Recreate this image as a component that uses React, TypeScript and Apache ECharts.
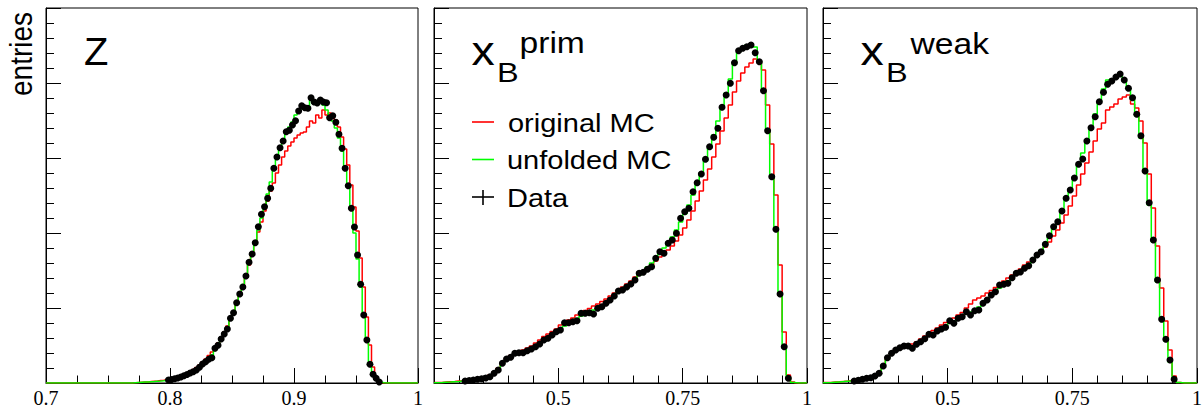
import React, { useEffect, useRef } from "react";
import * as echarts from "echarts";

// ---------- binning ----------
const Z_LO = 0.7;
const Z_HI = 1.0;
const Z_BINS = 120;
const XB_LO = 0.25;
const XB_HI = 1.0;
const XB_BINS = 90;

// ---------- tick labels ----------
const Z_TICK_LABELS = ["0.7", "0.8", "0.9", "1"];
const XB_TICK_LABELS = ["0.25", "0.5", "0.75", "1"];

// ---------- panel 1 : z ----------
const Z_RED_FIRST = 28;
const Z_RED = [
  0.3, 0.5, 0.7, 0.9, 1.1, 1.4, 1.7, 2.0, 2.4, 2.8, 3.3, 3.9, 4.6, 5.4, 6.3, 7.4, 8.7, 10.2, 11.8, 13.6,
  15.6, 18, 21, 24, 27.5, 31, 35, 40, 45, 51, 57, 63.5, 71, 79, 87.5, 97, 107, 118, 129, 140,
  151, 161, 172, 182, 192, 200, 210, 218, 226, 232, 237, 241, 245, 248, 250, 251, 256, 262, 260, 268,
  265, 273, 268, 270, 267, 263, 256, 246, 234, 218, 198, 176, 152, 125, 96, 66, 38, 16, 5, 1,
];
const Z_GREEN_FIRST = 28;
const Z_GREEN = [
  0.3, 0.5, 0.7, 0.9, 1.1, 1.3, 1.5, 1.8, 2, 2.3, 2.7, 3.2, 3.8, 4.5, 5.3, 6.3, 7.5, 8.8, 10.3, 12,
  14, 16.3, 18.8, 21.5, 24.5, 28, 32.5, 37.5, 43, 49, 55.5, 63, 71, 80, 89, 98.5, 108.5, 119, 130, 141.5,
  153, 165, 177, 189, 201, 213, 224, 234, 243, 250, 256, 261, 268, 272, 274, 276, 276, 283, 283, 282,
  282, 278, 273, 268, 262, 255, 245, 232, 215, 196, 174, 150, 124, 96, 68, 42, 21, 9, 3, 1, 0.3,
];
const Z_DATA_FIRST = 39;
const Z_DATA = [
  3, 3.5, 4.3, 5, 6, 7.2, 8.5, 10, 11.3, 13, 15.7, 19, 21.3, 23.7, 25.3, 34.7, 37.7,
  44, 49, 54, 64.7, 70.3, 80.3, 89, 96, 107, 120.7, 129, 140.3, 156.3, 168.7, 176.3, 184.7, 194.7, 214.7, 226, 235.3,
  242, 251.3, 252.7, 258, 262.3, 272, 277.3, 275.3, 274.7, 285.3, 281, 280, 283, 281, 280.3, 265.3, 267.3, 260.7, 248.7, 234.7,
  214.7, 197.3, 174.7, 156, 128, 98.7, 68, 43, 18.7, 8.7, 4.7, 1,
];

// ---------- panel 2 : x_B prim ----------
const XP_RED_FIRST = 0;
const XP_RED = [
  0.4, 0.6, 0.9, 1.2, 1.5, 1.9, 2.3, 2.8, 3.3, 3.8,
  4.4, 5.2, 6.3, 8, 11, 15, 20, 24.5, 27.5, 29.5,
  31, 33, 35, 37, 40, 43, 46.5, 49, 51.5, 54,
  58, 60, 63, 65, 68, 70, 72.5, 74.5, 77, 79,
  81.5, 84, 87, 90, 93, 96, 99, 102, 106, 109.5,
  112, 115, 118, 122, 126, 130, 133, 137, 142, 148,
  155, 163, 172, 182, 192, 203, 214, 226, 239, 252,
  265, 278, 291, 302, 310, 316, 320, 324, 321, 313,
  278, 239, 188, 118, 51, 8, 1,
];
const XP_GREEN_FIRST = 0;
const XP_GREEN = [
  0.3, 0.5, 0.8, 1, 1.3, 1.6, 2, 2.4, 2.8, 3.3,
  3.8, 4.5, 5.5, 7, 10, 14, 19, 23, 26, 28,
  29.5, 31, 32.5, 34.5, 36.5, 39, 42, 45, 48, 51,
  54, 57, 59.5, 62, 64.5, 67, 69, 71, 73, 75.5,
  78, 81, 84, 87.5, 91, 94, 97, 100, 104, 108,
  112, 116, 120, 125, 130, 135, 140, 146, 153, 161,
  169, 178, 188, 199, 210, 222, 235, 248, 262, 276,
  290, 304, 320, 331, 336, 338, 339, 336, 322, 293,
  253, 208, 153, 90, 36, 6, 0.5,
];
const XP_DATA_FIRST = 7;
const XP_DATA = [
  2, 2.5, 3,
  3.7, 4.3, 5, 6.3, 9.7, 13, 19.7, 24, 25.7, 29.7,
  30.3, 30.3, 32.3, 34, 36.3, 39, 43, 44.7, 48, 51.3,
  53, 60.3, 60.3, 61.3, 62.3, 69.7, 69.7, 70.3, 69, 74.7,
  76.3, 79.7, 83, 87, 92, 93, 96, 99, 103, 109.7,
  110.7, 113.7, 116.3, 124.7, 131.3, 129.7, 139.7, 143, 149.7, 164.7,
  171.3, 174.7, 191.3, 200.3, 209, 223.7, 236.3, 245.7, 254.7, 275.7,
  288, 299.7, 320.3, 332.3, 334.7, 336.3, 338, 330.3, 321.3, 292.3,
  252.3, 206.3, 153.7, 89, 36.3, 4.7,
];

// ---------- panel 3 : x_B weak ----------
const XW_RED_FIRST = 0;
const XW_RED = [
  0.4, 0.6, 0.9, 1.2, 1.6, 2, 2.5, 3, 3.6, 4.2,
  5, 6, 7.8, 11, 17, 25, 30, 34, 36.5, 37.5,
  38, 39, 41, 44, 47, 50, 52.5, 55, 58, 60.5,
  63, 65, 68, 70.5, 75, 79, 83, 85, 87, 90,
  92.5, 95.5, 99, 102, 105, 108, 111, 114, 118, 121,
  124, 128, 132, 136, 141, 147, 153, 160, 168, 177,
  187, 198, 209, 220, 231, 242, 254, 260, 273, 276,
  279, 284, 286, 288, 279, 275, 262, 240, 209, 175,
  137, 95, 62, 33, 7, 0.5,
];
const XW_GREEN_FIRST = 0;
const XW_GREEN = [
  0.3, 0.5, 0.8, 1.1, 1.4, 1.8, 2.2, 2.7, 3.2, 3.8,
  4.5, 5.5, 7, 10, 16, 24, 29, 32.5, 35, 36,
  36.5, 37, 38.5, 41, 44, 47, 49.5, 52, 54.5, 57,
  60, 62, 64.5, 67, 69, 71, 73.5, 76, 79.5, 83,
  87, 91, 95, 99, 102, 105.5, 109, 112, 115.5, 119,
  123.5, 128, 133, 139, 146, 154, 162, 172, 183, 194,
  206, 218, 230, 243, 256, 269, 281, 294, 303, 304,
  306, 309, 304, 295, 283, 267, 245, 212, 178, 141,
  101, 64, 42, 21, 4, 0.5,
];
const XW_DATA_FIRST = 7;
const XW_DATA = [
  2, 2.7, 3.7,
  4.7, 5.3, 7, 9.7, 17, 25.3, 29.7, 33, 35.3, 37,
  37, 34.7, 38.7, 41.3, 44.3, 48.7, 48, 52, 54, 55.7,
  62.3, 59.7, 64.7, 66.3, 71.3, 68, 72.3, 73, 79.7, 83,
  88, 91.3, 98, 98.7, 99.7, 105.3, 109.7, 111, 114.7, 117.3,
  123, 128, 131.3, 138.7, 147.3, 156.3, 161.3, 172, 184.7, 193,
  205, 218.7, 224, 242, 255.3, 266.3, 281.3, 290.7, 298.7, 302,
  306, 309, 303, 294.7, 285.3, 268.7, 247.3, 212, 180.3, 143,
  103, 63.7, 43.7, 23, 3.7,
];

const Y_MAX = 375;
const Y_STEP = 75;

const LEGEND_NAMES = ["original MC", "unfolded MC", "Data"];

// ---------- helpers ----------
function fullBins(first: number, vals: number[], n: number): number[] {
  const out: number[] = [];
  for (let i = 0; i < n; i++) {
    const k = i - first;
    out.push(k >= 0 && k < vals.length ? vals[k] : 0);
  }
  return out;
}
function stepData(lo: number, w: number, full: number[]) {
  const pts: number[][] = full.map((v, i) => [lo + i * w, v]);
  pts.push([lo + full.length * w, full[full.length - 1]]);
  return pts;
}
function pointData(lo: number, w: number, first: number, vals: number[]) {
  return vals.map((v, k) => [lo + (first + k + 0.5) * w, v]);
}

const PANELS = [
  {
    lo: Z_LO, hi: Z_HI, bins: Z_BINS, w: (Z_HI - Z_LO) / Z_BINS,
    red: [Z_RED_FIRST, Z_RED] as [number, number[]],
    green: [Z_GREEN_FIRST, Z_GREEN] as [number, number[]],
    data: [Z_DATA_FIRST, Z_DATA] as [number, number[]],
    interval: 0.1, minor: 4, labels: Z_TICK_LABELS, showMin: true,
    grid: { left: 46, top: 8, width: 372, height: 375 },
  },
  {
    lo: XB_LO, hi: XB_HI, bins: XB_BINS, w: (XB_HI - XB_LO) / XB_BINS,
    red: [XP_RED_FIRST, XP_RED] as [number, number[]],
    green: [XP_GREEN_FIRST, XP_GREEN] as [number, number[]],
    data: [XP_DATA_FIRST, XP_DATA] as [number, number[]],
    interval: 0.25, minor: 5, labels: XB_TICK_LABELS, showMin: false,
    grid: { left: 434, top: 8, width: 373, height: 375 },
  },
  {
    lo: XB_LO, hi: XB_HI, bins: XB_BINS, w: (XB_HI - XB_LO) / XB_BINS,
    red: [XW_RED_FIRST, XW_RED] as [number, number[]],
    green: [XW_GREEN_FIRST, XW_GREEN] as [number, number[]],
    data: [XW_DATA_FIRST, XW_DATA] as [number, number[]],
    interval: 0.25, minor: 5, labels: XB_TICK_LABELS, showMin: false,
    grid: { left: 823, top: 8, width: 374, height: 375 },
  },
];

const SANS = "'Liberation Sans', Arial, Helvetica, sans-serif";
const SERIF = "'Liberation Serif', 'Times New Roman', serif";
const SX = 1.16;

function txt(text: string, x: number, y: number, size: number, extra: any = {}) {
  return {
    type: "text",
    x,
    y,
    scaleX: SX,
    silent: true,
    style: {
      text,
      fontSize: size,
      fontFamily: SANS,
      fill: "#000",
      align: "left",
      verticalAlign: "middle",
      textAlign: "left",
      textVerticalAlign: "middle",
    },
    ...extra,
  };
}
function seg(x1: number, y1: number, x2: number, y2: number, color: string, lw = 1.6) {
  return {
    type: "line",
    silent: true,
    shape: { x1, y1, x2, y2 },
    style: { stroke: color, lineWidth: lw },
  };
}

function buildOption() {
  const grid: any[] = [];
  const xAxis: any[] = [];
  const yAxis: any[] = [];
  const series: any[] = [];

  PANELS.forEach((p, gi) => {
    grid.push({
      ...p.grid,
      show: true,
      borderColor: "#000",
      borderWidth: 1,
      backgroundColor: "#fff",
      containLabel: false,
      outerBoundsMode: "none",
    });
    xAxis.push({
      type: "value",
      gridIndex: gi,
      min: p.lo,
      max: p.hi,
      interval: p.interval,
      axisLine: { show: true, lineStyle: { color: "#000", width: 1 } },
      axisTick: { show: true, inside: true, length: 15, lineStyle: { color: "#000", width: 1 } },
      minorTick: { show: true, splitNumber: p.minor, length: 7.5, lineStyle: { color: "#000", width: 1 } },
      splitLine: { show: false },
      minorSplitLine: { show: false },
      axisLabel: {
        show: true,
        showMinLabel: p.showMin,
        showMaxLabel: true,
        margin: 5,
        fontSize: 20,
        lineHeight: 20,
        fontFamily: SERIF,
        color: "#000",
        formatter: (v: number) => p.labels[Math.round((v - p.lo) / p.interval)] ?? "",
      },
    });
    yAxis.push({
      type: "value",
      gridIndex: gi,
      min: 0,
      max: Y_MAX,
      interval: Y_STEP,
      axisLine: { show: true, lineStyle: { color: "#000", width: 1 } },
      axisTick: { show: true, inside: true, length: 15, lineStyle: { color: "#000", width: 1 } },
      minorTick: { show: true, splitNumber: 5, length: 8, lineStyle: { color: "#000", width: 1 } },
      splitLine: { show: false },
      axisLabel: { show: false },
    });
    const redFull = fullBins(p.red[0], p.red[1], p.bins);
    const greenFull = fullBins(p.green[0], p.green[1], p.bins);
    series.push({
      name: LEGEND_NAMES[0],
      type: "line",
      xAxisIndex: gi,
      yAxisIndex: gi,
      step: "end",
      symbol: "none",
      data: stepData(p.lo, p.w, redFull),
      lineStyle: { color: "#ff0000", width: 1.5 },
      itemStyle: { color: "#ff0000" },
      z: 2,
    });
    series.push({
      name: LEGEND_NAMES[1],
      type: "line",
      xAxisIndex: gi,
      yAxisIndex: gi,
      step: "end",
      symbol: "none",
      data: stepData(p.lo, p.w, greenFull),
      lineStyle: { color: "#00ff00", width: 1.5 },
      itemStyle: { color: "#00ff00" },
      z: 3,
    });
    series.push({
      name: LEGEND_NAMES[2],
      type: "scatter",
      xAxisIndex: gi,
      yAxisIndex: gi,
      symbol: "circle",
      symbolSize: 7,
      data: pointData(p.lo, p.w, p.data[0], p.data[1]),
      itemStyle: { color: "#000", opacity: 1 },
      z: 4,
    });
  });

  const graphic: any[] = [
    // y title
    {
      type: "text",
      x: 21,
      y: 96,
      rotation: Math.PI / 2,
      scaleY: 1.15,
      silent: true,
      style: {
        text: "entries",
        fontSize: 28,
        fontFamily: SANS,
        fill: "#000",
        align: "left",
        verticalAlign: "middle",
        textAlign: "left",
        textVerticalAlign: "middle",
      },
    },
    // panel titles
    txt("Z", 84, 51.5, 38, { scaleX: 1.05 }),
    txt("x", 471.5, 51, 40),
    txt("B", 497, 72, 28),
    txt("prim", 519.5, 43.5, 29),
    txt("x", 860.5, 51, 40),
    txt("B", 886, 72, 28),
    txt("weak", 910.5, 44.5, 29),
    // legend
    seg(472, 122, 494, 122, "#ff0000"),
    seg(472, 159.5, 494, 159.5, "#00ff00"),
    seg(472, 197, 494, 197, "#000"),
    seg(483, 190, 483, 205, "#000"),
    txt(LEGEND_NAMES[0], 508, 123, 25),
    txt(LEGEND_NAMES[1], 507, 160, 25),
    txt(LEGEND_NAMES[2], 507, 198.5, 25),
  ];

  return {
    animation: false,
    backgroundColor: "#fff",
    textStyle: { fontFamily: SANS },
    grid,
    xAxis,
    yAxis,
    series,
    graphic,
  };
}

export default function App() {
  const ref = useRef<HTMLDivElement>(null);
  useEffect(() => {
    document.body.style.margin = "0";
    if (!ref.current) return;
    const chart = echarts.init(ref.current, undefined, { renderer: "svg" });
    chart.setOption(buildOption() as any);
    return () => chart.dispose();
  }, []);
  return <div ref={ref} style={{ width: 1204, height: 409 }} />;
}
